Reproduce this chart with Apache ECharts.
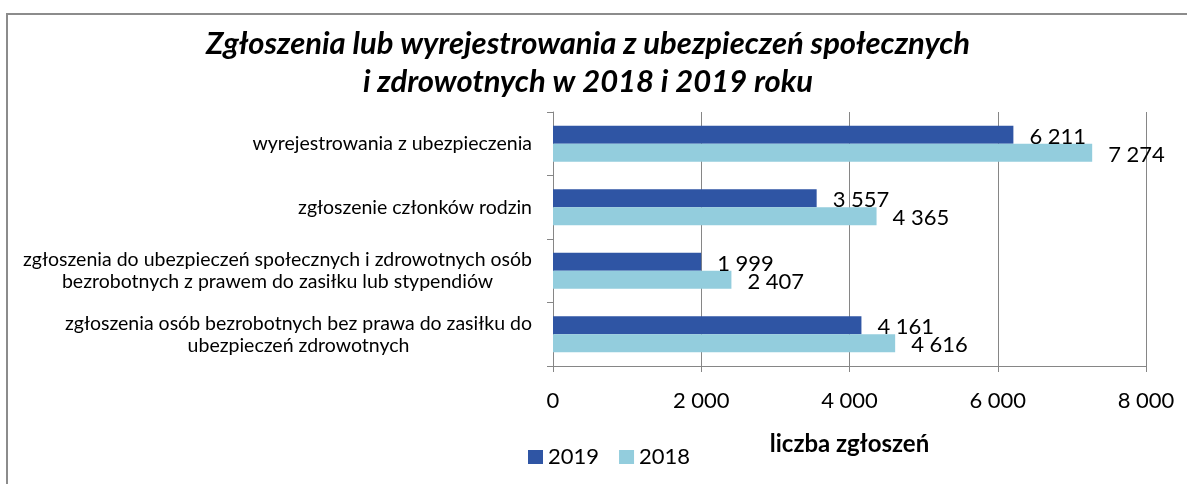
<!DOCTYPE html>
<html lang="pl">
<head>
    <meta charset="UTF-8">
    <title>Zgłoszenia</title>
    <script src="https://cdn.jsdelivr.net/npm/echarts@6/dist/echarts.min.js"></script>
</head>
<body style="margin:0;background:#fff;">
<div id="main" style="width: 1187px;height:484px;"></div>
<script type="text/javascript">
    var categories = [
        'wyrejestrowania z ubezpieczenia',
        'zgłoszenie członków rodzin',
        'zgłoszenia do ubezpieczeń społecznych i zdrowotnych osób\nbezrobotnych z prawem do zasiłku lub stypendiów',
        'zgłoszenia osób bezrobotnych bez prawa do zasiłku do\nubezpieczeń zdrowotnych'
    ];
    var values2019 = [6211, 3557, 1999, 4161];
    var values2018 = [7274, 4365, 2407, 4616];
    var xTicks = [0, 2000, 4000, 6000, 8000];

    var FONT = 'Lato';

    function fmt(v) {
        return String(v).replace(/\B(?=(\d{3})+(?!\d))/g, ' ');
    }

    var myChart = echarts.init(document.getElementById('main'));

    var barLabel = {
        show: true,
        position: 'right',
        distance: 16,
        offset: [0, 2],
        color: '#000',
        fontFamily: FONT,
        fontSize: 22,
        formatter: function (p) { return fmt(p.value); }
    };

    myChart.setOption({
        animation: false,
        title: {
            text: 'Zgłoszenia lub wyrejestrowania z ubezpieczeń społecznych\ni zdrowotnych w 2018 i 2019 roku',
            left: 583,
            textAlign: 'center',
            top: 20,
            textStyle: {
                fontFamily: FONT,
                fontSize: 31,
                fontWeight: 'bold',
                fontStyle: 'italic',
                lineHeight: 38,
                color: '#000'
            }
        },
        graphic: [{
            type: 'rect',
            shape: {x: 7, y: 14, width: 1200, height: 500},
            style: {fill: 'none', stroke: '#8c8c8c', lineWidth: 2},
            silent: true
        }],
        legend: {
            data: ['2019', '2018'],
            left: 523,
            top: 441,
            itemWidth: 15,
            itemHeight: 14,
            itemGap: 20,
            icon: 'rect',
            textStyle: {fontFamily: FONT, fontSize: 22, color: '#000'}
        },
        grid: {left: 553, right: 41, top: 112, bottom: 118},
        xAxis: {
            type: 'value',
            min: 0,
            max: 8000,
            interval: 2000,
            name: 'liczba zgłoszeń',
            nameLocation: 'middle',
            nameGap: 66,
            nameTextStyle: {
                fontFamily: FONT,
                fontSize: 24,
                fontWeight: 'bold',
                color: '#000'
            },
            axisLine: {show: true, lineStyle: {color: '#868686'}},
            axisTick: {show: true, length: 6, lineStyle: {color: '#868686'}},
            axisLabel: {
                margin: 24,
                fontFamily: FONT,
                fontSize: 22,
                color: '#000',
                formatter: function (v) { return xTicks.indexOf(v) >= 0 ? fmt(v) : ''; }
            },
            splitLine: {show: true, lineStyle: {color: '#868686'}}
        },
        yAxis: {
            type: 'category',
            inverse: true,
            data: categories,
            axisLine: {show: true, lineStyle: {color: '#868686'}},
            axisTick: {show: true, length: 6, lineStyle: {color: '#868686'}},
            axisLabel: {
                margin: 21,
                fontFamily: FONT,
                fontSize: 19.5,
                color: '#000',
                lineHeight: 22,
                formatter: function (v) {
                    return v.split('\n').map(function (l) { return '{c|' + l + '}'; }).join('\n');
                },
                rich: {
                    c: {align: 'center', fontFamily: FONT, fontSize: 19.5, color: '#000', lineHeight: 22}
                }
            }
        },
        series: [
            {
                name: '2019',
                type: 'bar',
                barWidth: 18,
                barGap: '0%',
                itemStyle: {color: '#2F55A4'},
                label: barLabel,
                data: values2019
            },
            {
                name: '2018',
                type: 'bar',
                barWidth: 18,
                barGap: '0%',
                itemStyle: {color: '#93CDDD'},
                label: barLabel,
                data: values2018
            }
        ]
    });
</script>
</body>
</html>
